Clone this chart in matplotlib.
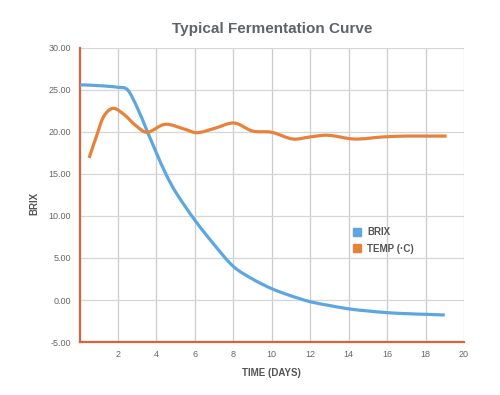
import numpy as np
import matplotlib
matplotlib.use("Agg")
import matplotlib.pyplot as plt
from matplotlib.path import Path
from matplotlib.patches import PathPatch
from matplotlib.lines import Line2D

plt.rcParams['font.family'] = ['Liberation Sans', 'DejaVu Sans']

# values
brix_days = [0, 1, 2, 2.5, 3, 3.5, 4, 4.5, 5, 6, 7, 8, 9, 10, 11, 12, 13, 14, 15, 16, 17, 18, 19]
brix = [25.6, 25.5, 25.3, 25.0, 22.9, 20.2, 17.5, 14.95, 12.85, 9.5, 6.6, 4.0, 2.5, 1.35, 0.5,
        -0.2, -0.65, -1.05, -1.3, -1.5, -1.62, -1.7, -1.78]

temp_days = [0.5, 0.9, 1.25, 1.75, 2.35, 2.9, 3.5, 4.45, 5.5, 6.1, 7.0, 8.05, 9.0, 10.0,
             11.1, 12.0, 12.9, 14.3, 15.8, 17.0, 18.0, 19.1]
temp = [16.9, 19.6, 21.8, 22.8, 22.0, 20.8, 19.95, 20.9, 20.3, 19.9, 20.4, 21.05, 20.1, 19.95,
        19.15, 19.4, 19.6, 19.15, 19.4, 19.5, 19.5, 19.5]

x_ticks = [2, 4, 6, 8, 10, 12, 14, 16, 18, 20]
y_ticks = [-5, 0, 5, 10, 15, 20, 25, 30]

BLUE = '#5da7e1'
ORANGE = '#e8823a'
SPINE = '#e0603a'


def smooth_path(xs, ys):
    # cubic bezier through the points, tangents from neighbouring slopes
    x = np.asarray(xs, float)
    y = np.asarray(ys, float)
    n = len(x)
    m = np.zeros(n)
    m[0] = (y[1] - y[0]) / (x[1] - x[0])
    m[-1] = (y[-1] - y[-2]) / (x[-1] - x[-2])
    for i in range(1, n - 1):
        m[i] = (y[i + 1] - y[i - 1]) / (x[i + 1] - x[i - 1])
    verts = [(x[0], y[0])]
    codes = [Path.MOVETO]
    for i in range(n - 1):
        h = (x[i + 1] - x[i]) / 3
        verts += [(x[i] + h, y[i] + m[i] * h), (x[i + 1] - h, y[i + 1] - m[i + 1] * h),
                  (x[i + 1], y[i + 1])]
        codes += [Path.CURVE4] * 3
    return Path(verts, codes)


fig = plt.figure(figsize=(5, 3.95), dpi=100)
ax = fig.add_axes([0.159, 0.134, 0.769, 0.745])

for xs, ys, col in [(brix_days, brix, BLUE), (temp_days, temp, ORANGE)]:
    ax.add_patch(PathPatch(smooth_path(xs, ys), fill=False, edgecolor=col,
                           lw=2.3, capstyle='butt', zorder=3))

ax.set_xlim(0, 20)
ax.set_ylim(-5, 30)
ax.set_xticks(x_ticks)
ax.set_yticks(y_ticks)
ax.set_yticklabels([f"{v:.2f}" for v in y_ticks])
ax.tick_params(length=0, labelsize=6.5, colors='#666666', pad=6)

ax.grid(axis='x', color='#cccccc', lw=0.9)
ax.grid(axis='y', color='#d6d6d6', lw=0.9)
ax.set_axisbelow(True)

for s in ['top', 'right']:
    ax.spines[s].set_visible(False)
for s in ['left', 'bottom']:
    ax.spines[s].set_color(SPINE)
    ax.spines[s].set_linewidth(1.6)

ax.set_title("Typical Fermentation Curve", fontsize=11, fontweight='bold',
             color='#5f6368', pad=11)
ax.set_xlabel("TIME (DAYS)", fontsize=7, fontweight='bold', color='#555555')
ax.xaxis.set_label_coords(0.5, -0.088)
ax.set_ylabel("BRIX", fontsize=7, fontweight='bold', color='#555555')
ax.yaxis.set_label_coords(-0.104, 0.47)

handles = [Line2D([], [], ls='none', marker='s', ms=6, color=BLUE, label='BRIX'),
           Line2D([], [], ls='none', marker='s', ms=6, color=ORANGE, label='TEMP (·C)')]
leg = ax.legend(handles=handles, loc='upper left', bbox_to_anchor=(0.69, 0.42),
                frameon=False, fontsize=7, handlelength=0.8, handletextpad=0.6,
                labelspacing=0.65)
for t in leg.get_texts():
    t.set_color('#555555')
    t.set_fontweight('bold')

fig.savefig("out.png", dpi=100)
